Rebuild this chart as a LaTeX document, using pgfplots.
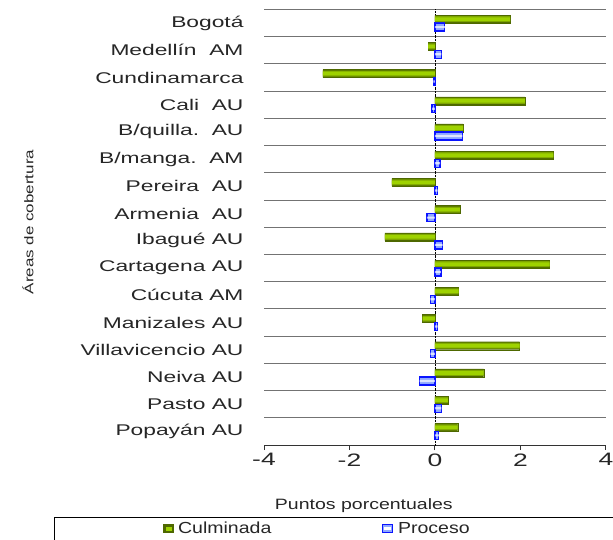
\documentclass[border=0pt]{standalone}
\usepackage{fontspec}
\setmainfont{Liberation Sans}
\usepackage{graphicx}
\usepackage{pgfplots}
\pgfplotsset{compat=1.18}
\definecolor{gdark}{HTML}{4E6800}
\definecolor{gmid}{HTML}{7EA600}
\definecolor{glight}{HTML}{9ED200}
\definecolor{bblue}{HTML}{0A14FF}
\definecolor{blight}{HTML}{8FA8FF}
\definecolor{txt}{HTML}{262626}
\newcommand\W[1]{\scalebox{1.47}[1]{#1}}
\pgfplotstableread{
v y
1.76 0
-0.16 1
-2.62 2
2.10 3
0.66 4
2.77 5
-1.01 6
0.58 7
-1.17 8
2.68 9
0.55 10
-0.29 11
1.98 12
1.14 13
0.30 14
0.53 15
}\culm
\pgfplotstableread{
v y
0.23 0
0.15 1
-0.04 2
-0.07 3
0.64 4
0.12 5
0.06 6
-0.19 7
0.18 8
0.14 9
-0.11 10
0.06 11
-0.11 12
-0.36 13
0.15 14
0.09 15
}\proc
\begin{document}
\begin{tikzpicture}
\begin{axis}[
  at={(264pt,95pt)}, anchor=south west,
  scale only axis, width=342pt, height=435.5pt,
  xmin=-4, xmax=4, ymin=-0.5, ymax=15.5, y dir=reverse,
  axis x line*=bottom, axis y line*=left, axis line style={-},
  x axis line style={black!80, line width=1pt},
  y axis line style={draw=none},
  xtick={-4,-2,0,2,4},
  xticklabels={\W{-4},\W{-2},\W{0},\W{2},\W{4}},
  xticklabel style={font=\fontsize{18}{20}\selectfont, text=txt},
  tick align=outside,
  major tick length=5pt,
  xtick style={black!80, line width=1pt},
  ytick={0,...,15},
  yticklabels={\W{Bogotá}, \W{Medellín\ \ AM}, \W{Cundinamarca}, \W{Cali\ \ AU}\hspace{7pt}, \W{B/quilla.\ \ AU}\hspace{20pt}, \W{B/manga.\ \ AM}\hspace{12pt}, \W{Pereira\ \ AU}\hspace{20pt}, \W{Armenia\ \ AU}\hspace{20pt}, \W{Ibagué AU}, \W{Cartagena AU}, \W{Cúcuta AM}, \W{Manizales AU}, \W{Villavicencio AU}, \W{Neiva AU}, \W{Pasto AU}, \W{Popayán AU}},
  ytick style={draw=none},
  yticklabel style={font=\fontsize{15.5}{18}\selectfont, text=txt, xshift=-12pt},
  minor ytick={-0.5,0.5,...,14.5},
  yminorgrids,
  minor grid style={black!55, line width=1pt},
  extra x ticks={0}, extra x tick labels={},
  extra x tick style={grid=major, major grid style={black, densely dotted, line width=0.7pt}},
  xbar,
  xlabel={\scalebox{1.3}[1]{Puntos porcentuales}},
  xlabel style={at={(axis description cs:0.292,-0.140)}, anchor=center, font=\fontsize{15}{18}\selectfont, text=txt},
  ylabel={\scalebox{1}[0.74]{Áreas de cobertura}},
  ylabel style={at={(axis description cs:-0.690,0.512)}, anchor=center, font=\fontsize{17}{20}\selectfont, text=txt},
  legend columns=2,
  legend style={at={(axis description cs:-0.614,-0.1642)}, anchor=north west, draw=black, line width=0.8pt,
    font=\fontsize{16}{19}\selectfont, text=txt, inner xsep=108.7pt, inner ysep=5pt,
    nodes={inner sep=0pt}, column sep=0pt},
  legend cell align=left,
  legend image code/.code={\draw[#1] (0pt,-4pt) rectangle (10pt,4pt);},
]
% Culminada (layered for gradient look)
\addplot[fill=gdark, draw=gdark, line width=0.3pt, bar width=8pt, bar shift=4pt, legend image code/.code={\draw[fill=gdark,draw=gdark] (0pt,-4pt) rectangle (10pt,4pt); \fill[glight] (2.5pt,-1.5pt) rectangle (7.5pt,1.5pt);}] table[x=v,y=y] {\culm};
\addlegendentry{\makebox[208.7pt][l]{\hspace{4.7pt}\scalebox{1.22}[1]{Culminada}}}
% Proceso
\addplot[fill=blight, draw=bblue, line width=1.3pt, bar width=8pt, bar shift=-4pt, legend image code/.code={\draw[fill=blight,draw=bblue,line width=1.3pt] (0pt,-4pt) rectangle (10pt,4pt); \fill[white] (2pt,-1pt) rectangle (8pt,1pt);}] table[x=v,y=y] {\proc};
\addlegendentry{\makebox[250pt][l]{\hspace{4.7pt}\scalebox{1.22}[1]{Proceso}}}
\addplot[forget plot, fill=gmid, draw=none, bar width=6pt, bar shift=4pt] table[x=v,y=y] {\culm};
\addplot[forget plot, fill=glight, draw=none, bar width=3.6pt, bar shift=4pt] table[x=v,y=y] {\culm};
\addplot[forget plot, fill=white, draw=none, bar width=2.2pt, bar shift=-4pt, opacity=0.7] table[x=v,y=y] {\proc};
\end{axis}
\pgfresetboundingbox
\useasboundingbox (0,0) rectangle (613pt,540pt);
\end{tikzpicture}
\end{document}
